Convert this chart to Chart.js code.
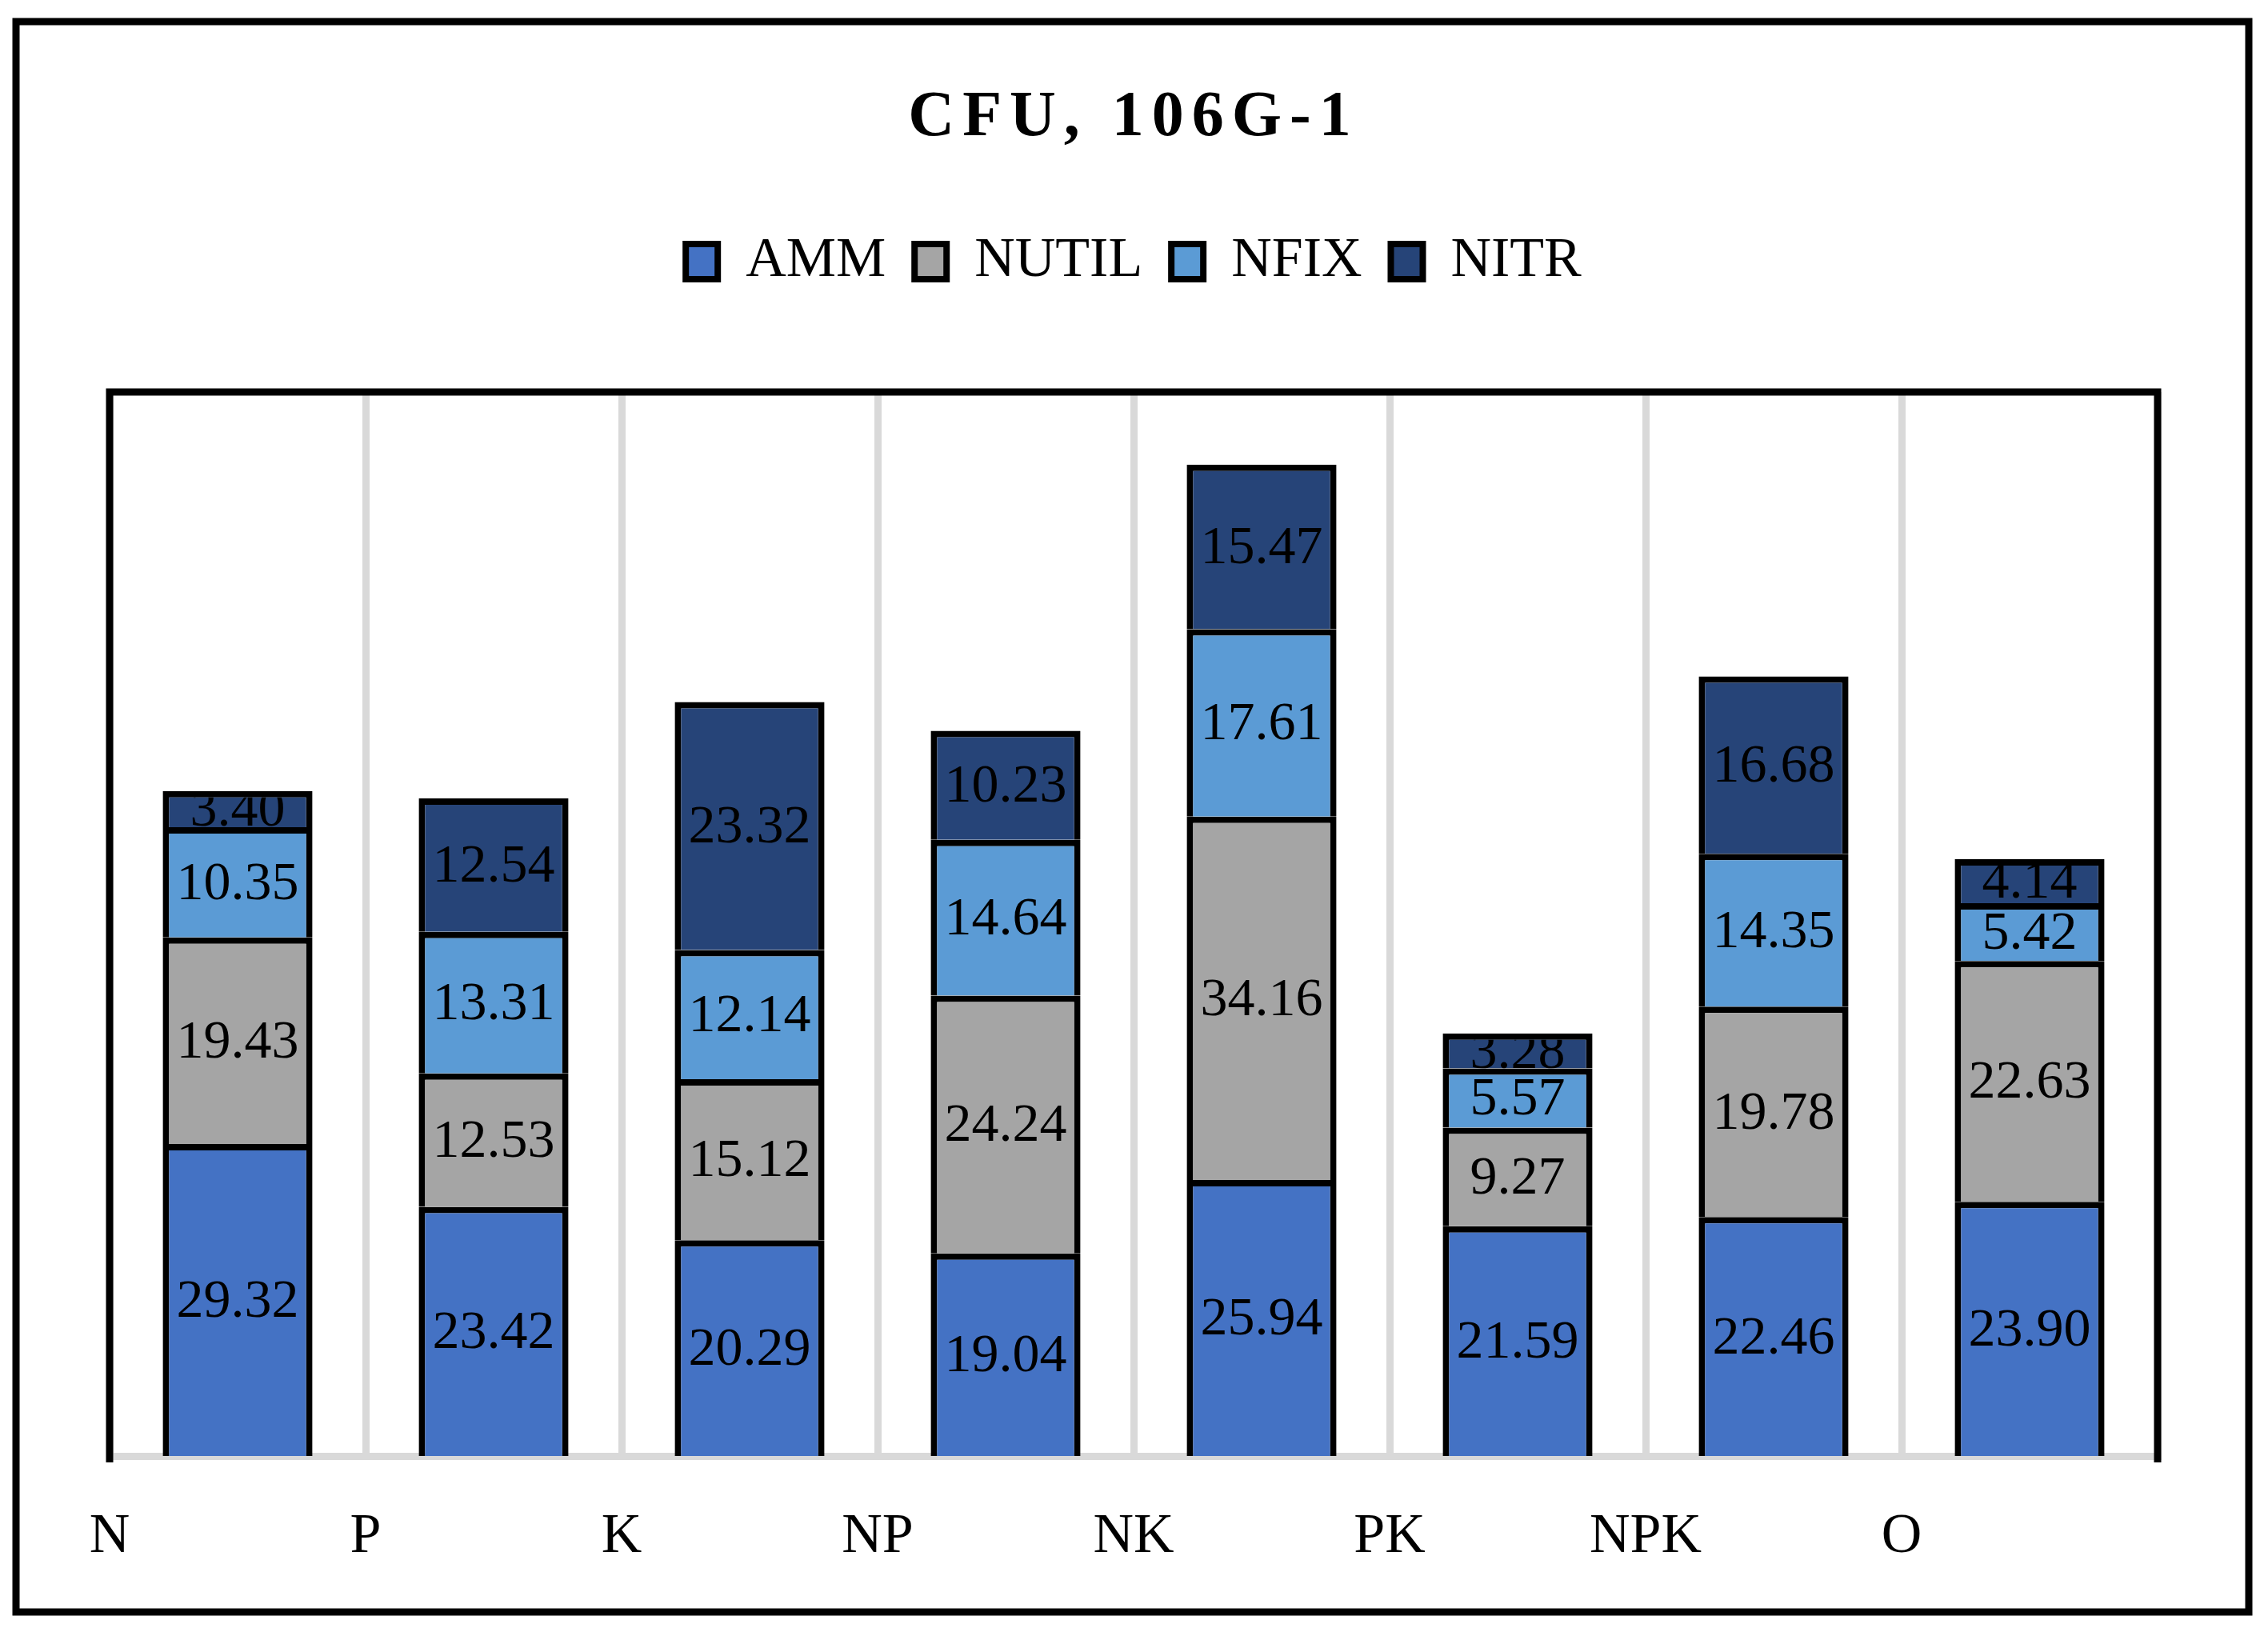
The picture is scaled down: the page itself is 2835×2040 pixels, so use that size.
<!DOCTYPE html>
<html>
<head>
<meta charset="utf-8">
<title>CFU, 106G-1</title>
<script src="https://cdn.jsdelivr.net/npm/chart.js@4/dist/chart.umd.min.js"></script>
<style>
  html, body { margin: 0; padding: 0; background: #fff; }
  canvas { display: block; }
</style>
</head>
<body>
<canvas id="chart" width="2835" height="2040"></canvas>
<script>
const titleText = 'CFU, 106G-1';
const categories = ['N', 'P', 'K', 'NP', 'NK', 'PK', 'NPK', 'O'];
const seriesNames = ['AMM', 'NUTIL', 'NFIX', 'NITR'];

// values per treatment, bottom to top of each stack
const amm   = [29.32, 23.42, 20.29, 19.04, 25.94, 21.59, 22.46, 23.90];
const nutil = [19.43, 12.53, 15.12, 24.24, 34.16,  9.27, 19.78, 22.63];
const nfix  = [10.35, 13.31, 12.14, 14.64, 17.61,  5.57, 14.35,  5.42];
const nitr  = [ 3.40, 12.54, 23.32, 10.23, 15.47,  3.28, 16.68,  4.14];

const colors = ['#4472C4', '#A5A5A5', '#5B9BD5', '#264478'];
const SERIF = '"Liberation Serif", "DejaVu Serif", serif';
const BORDER = 8;

const datasets = [amm, nutil, nfix, nitr].map((values, i) => ({
  label: seriesNames[i],
  data: values,
  backgroundColor: colors[i],
  borderColor: '#000',
  borderWidth: BORDER,
  barPercentage: 1,
  categoryPercentage: 0.585
}));

// white page, outer frame, title letter spacing, extra room under legend
const pagePlugin = {
  id: 'page',
  beforeLayout(chart) {
    const lg = chart.legend;
    if (lg && !lg._padded) {
      const fit = lg.fit;
      lg.fit = function () { fit.call(this); this.height += 118; };
      lg._padded = true;
    }
  },
  beforeDraw(chart) {
    const ctx = chart.ctx;
    ctx.save();
    ctx.fillStyle = '#fff';
    ctx.fillRect(0, 0, chart.width, chart.height);
    ctx.strokeStyle = '#000';
    ctx.lineWidth = 9;
    ctx.strokeRect(20, 27, 2791, 1988);
    ctx.restore();
    const tb = chart.titleBlock;
    if (tb && !tb._spaced) {
      const draw = tb.draw;
      tb.draw = function () {
        this.ctx.save();
        this.ctx.letterSpacing = '10px';
        draw.call(this);
        this.ctx.restore();
      };
      tb._spaced = true;
    }
  },
  beforeDatasetsDraw(chart) {
    const { left, right, top, bottom } = chart.chartArea;
    const ctx = chart.ctx;
    ctx.save();
    ctx.strokeStyle = '#000';
    ctx.lineWidth = 9;
    ctx.lineJoin = 'miter';
    ctx.beginPath();
    ctx.moveTo(left, bottom + 8);
    ctx.lineTo(left, top);
    ctx.lineTo(right, top);
    ctx.lineTo(right, bottom + 8);
    ctx.stroke();
    ctx.restore();
  }
};

// value labels centred in each segment, clipped to the segment fill
const valueLabels = {
  id: 'valueLabels',
  afterDatasetsDraw(chart) {
    const ctx = chart.ctx;
    chart.data.datasets.forEach((ds, i) => {
      const meta = chart.getDatasetMeta(i);
      meta.data.forEach((bar, j) => {
        const { x, y, base, width } = bar.getProps(['x', 'y', 'base', 'width'], true);
        ctx.save();
        ctx.beginPath();
        ctx.rect(x - width / 2 + BORDER, y + BORDER, width - 2 * BORDER, base - y - BORDER);
        ctx.clip();
        ctx.fillStyle = '#000';
        ctx.font = '68px ' + SERIF;
        ctx.textAlign = 'center';
        ctx.textBaseline = 'middle';
        ctx.fillText(ds.data[j].toFixed(2), x, (y + base) / 2 + 3);
        ctx.restore();
      });
    });
  }
};

new Chart(document.getElementById('chart'), {
  type: 'bar',
  data: { labels: categories, datasets },
  options: {
    responsive: false,
    animation: false,
    devicePixelRatio: 1,
    layout: { padding: { top: 30, left: 137, right: 138, bottom: 16 } },
    plugins: {
      title: {
        display: true,
        text: titleText,
        color: '#000',
        font: { family: SERIF, size: 80, weight: 'bold' },
        padding: { top: 70, bottom: 60 }
      },
      legend: {
        position: 'top',
        labels: {
          color: '#000',
          font: { family: SERIF, size: 70 },
          boxWidth: 40,
          boxHeight: 44,
          padding: 36
        }
      },
      tooltip: { enabled: false }
    },
    scales: {
      x: {
        stacked: true,
        grid: { color: '#d9d9d9', lineWidth: 9, drawTicks: false, offset: true },
        border: { color: '#d9d9d9', width: 9 },
        ticks: {
          color: '#000',
          font: { family: SERIF, size: 70 },
          labelOffset: -160,
          padding: 60,
          autoSkip: false,
          maxRotation: 0
        }
      },
      y: { stacked: true, display: false, min: 0, max: 100 }
    }
  },
  plugins: [pagePlugin, valueLabels]
});
</script>
</body>
</html>
